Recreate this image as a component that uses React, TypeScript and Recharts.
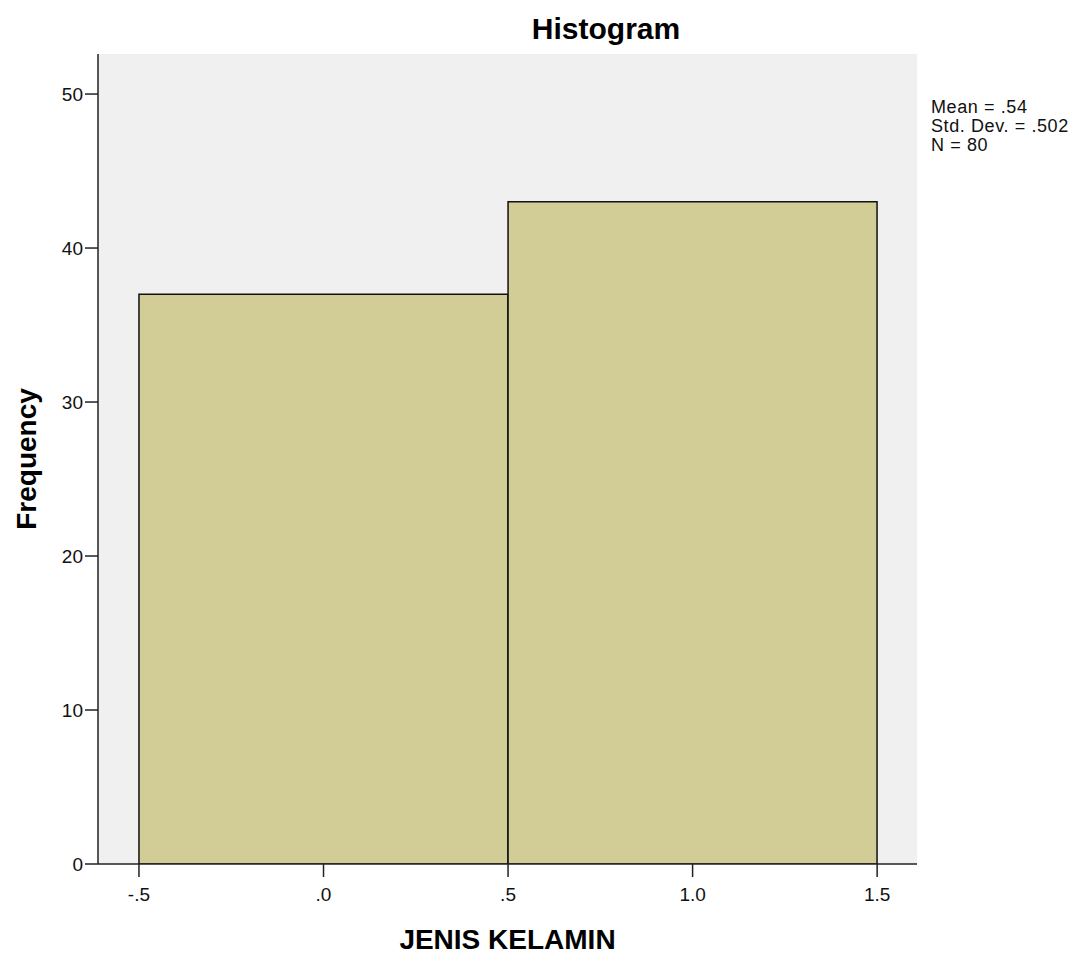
import React from 'react'
import { Bar, CartesianGrid, ComposedChart, XAxis, YAxis, Label } from 'recharts'

const binMids = [0, 1]
const binCounts = [37, 43]
const xTicks = [-0.5, 0, 0.5, 1, 1.5]
const yTicks = [0, 10, 20, 30, 40, 50]
const statLines = ['Mean = .54', 'Std. Dev. = .502', 'N = 80']

const data = binMids.map((mid, i) => ({ mid, count: binCounts[i] }))

const FONT = '"Liberation Sans", Arial, sans-serif'

const fmtX = (v: number) => {
  if (v === 0) return '.0'
  if (v === 0.5) return '.5'
  if (v === -0.5) return '-.5'
  return v.toFixed(1)
}

export default function App() {
  return (
    <div style={{ position: 'absolute', left: 0, top: 0, width: 1090, height: 957, background: '#fff', fontFamily: FONT }}>
      <div style={{ position: 'absolute', left: 0, width: 1212, top: 12, textAlign: 'center', fontSize: 30, fontWeight: 'bold', color: '#000', lineHeight: '34px' }}>
        Histogram
      </div>
      <div style={{ position: 'absolute', left: 931, top: 98, fontSize: 18, lineHeight: '19px', letterSpacing: 0.6, color: '#111', whiteSpace: 'nowrap' }}>
        {statLines.map((s) => <div key={s}>{s}</div>)}
      </div>
      <ComposedChart
        width={1090}
        height={957}
        data={data}
        margin={{ top: 54, right: 173, bottom: 33, left: 38 }}
        barCategoryGap={0}
        barGap={0}
        style={{ fontFamily: FONT }}
      >
        <CartesianGrid horizontal={false} vertical={false} fill="#f0f0f0" />
        <XAxis
          xAxisId="top"
          orientation="top"
          type="number"
          dataKey="mid"
          domain={[-0.611, 1.608]}
          tick={false}
          tickLine={false}
          height={0}
          axisLine={{ stroke: '#444', strokeWidth: 1.5 }}
        />
        <YAxis
          yAxisId="right"
          orientation="right"
          domain={[0, 52.6]}
          tick={false}
          tickLine={false}
          width={0}
          axisLine={{ stroke: '#444', strokeWidth: 1.5 }}
        />
        <XAxis
          type="number"
          dataKey="mid"
          domain={[-0.611, 1.608]}
          ticks={xTicks}
          tickFormatter={fmtX}
          allowDataOverflow
          height={60}
          axisLine={{ stroke: '#222', strokeWidth: 1.5 }}
          tickLine={{ stroke: '#222', strokeWidth: 1.5 }}
          tickSize={13}
          tick={{ fill: '#111', fontSize: 19, fontFamily: FONT, dy: 9 }}
        >
          <Label value="JENIS KELAMIN" position="insideBottom" offset={-25} style={{ fontSize: 28, fontWeight: 'bold', fill: '#000', fontFamily: FONT }} />
        </XAxis>
        <YAxis
          type="number"
          domain={[0, 52.6]}
          ticks={yTicks}
          allowDataOverflow
          width={60}
          axisLine={{ stroke: '#222', strokeWidth: 1.5 }}
          tickLine={{ stroke: '#222', strokeWidth: 1.5 }}
          tickSize={13}
          tick={{ fill: '#111', fontSize: 19, fontFamily: FONT }}
        >
          <Label value="Frequency" angle={-90} position="insideLeft" offset={-12} style={{ fontSize: 28, fontWeight: 'bold', fill: '#000', fontFamily: FONT, textAnchor: 'middle' }} />
        </YAxis>
        <Bar dataKey="count" fill="#d2cd96" stroke="#111" strokeWidth={1.5} isAnimationActive={false} />
      </ComposedChart>
    </div>
  )
}
